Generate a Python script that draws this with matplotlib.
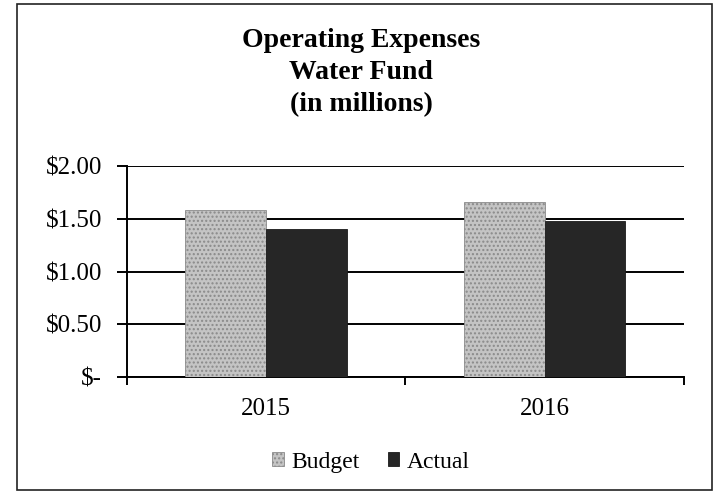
import matplotlib.pyplot as plt
import matplotlib.patches as patches
import numpy as np

# data
years = ['2015', '2016']
budget = [1.58, 1.66]
actual = [1.40, 1.48]
y_ticks = [0, 0.5, 1.0, 1.5, 2.0]
y_labels = ['$-', '$0.50', '$1.00', '$1.50', '$2.00']

plt.rcParams['font.family'] = ['Liberation Serif', 'DejaVu Serif']
plt.rcParams['hatch.color'] = '#7a7a7a'

fig = plt.figure(figsize=(7.22, 4.96), dpi=100)
ax = fig.add_axes([0.1759, 0.2399, 0.947 - 0.1759, 0.6653 - 0.2399])

# outer chart border
fig.patches.append(patches.Rectangle((0.023, 0.012), 0.963, 0.98, transform=fig.transFigure,
                                     fill=False, edgecolor='#222222', linewidth=1.2))

x = np.arange(len(years))
w = 0.29
ax.bar(x - w / 2, budget, w, color='#c4c4c4', edgecolor='#8a8a8a', linewidth=0.6,
       hatch='....', label='Budget', zorder=3)
ax.bar(x + w / 2, actual, w, color='#262626', edgecolor='#1a1a1a', linewidth=0.6,
       label='Actual', zorder=3)

ax.set_xlim(-0.5, 1.5)
ax.set_ylim(0, 2.0)
ax.set_yticks(y_ticks)
ax.set_yticklabels(y_labels, fontsize=18)
ax.yaxis.grid(True, color='black', linewidth=1.4, zorder=0)
ax.set_axisbelow(True)

ax.set_xticks([-0.5, 0.5, 1.5], minor=False)
ax.set_xticklabels([])
ax.set_xticks(x, minor=True)
ax.set_xticklabels(years, minor=True, fontsize=18)
ax.tick_params(axis='x', which='minor', length=0, pad=15)
ax.tick_params(axis='x', which='major', length=6, width=1.4, direction='out')
ax.tick_params(axis='y', length=7, width=1.4, direction='out', pad=11)

for s in ['top', 'right']:
    ax.spines[s].set_visible(False)
for s in ['left', 'bottom']:
    ax.spines[s].set_linewidth(1.4)

fig.text(0.5, 0.944, 'Operating Expenses\nWater Fund\n(in millions)', ha='center', va='top',
         fontsize=20, fontweight='bold', linespacing=1.38)

ax.legend(loc='center', bbox_to_anchor=(0.438, -0.403), ncol=2, frameon=False,
          fontsize=17, handlelength=0.5, handleheight=0.5, handletextpad=0.3, columnspacing=1.2)

fig.savefig('out.png', dpi=100)
